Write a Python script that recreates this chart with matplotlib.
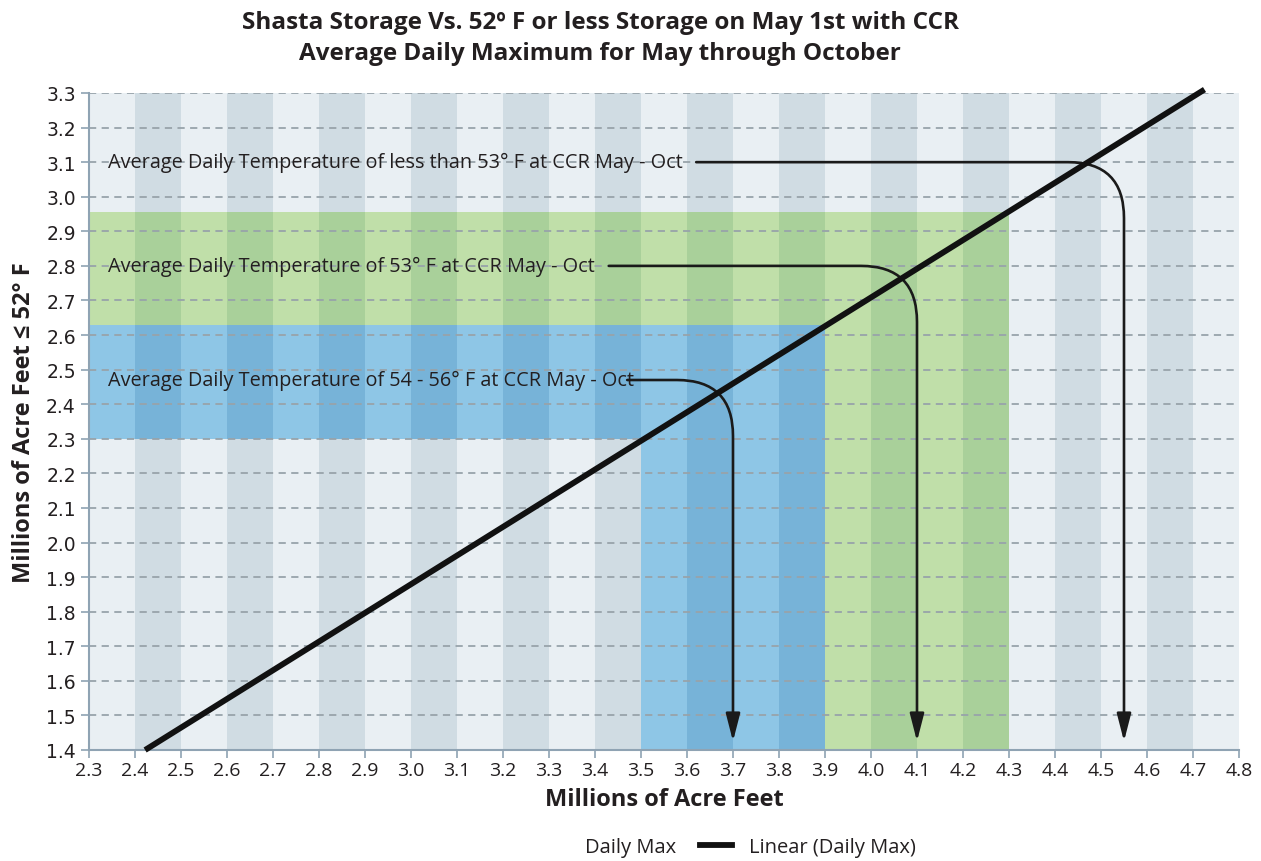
import matplotlib
matplotlib.use('Agg')
import matplotlib.pyplot as plt
from matplotlib.lines import Line2D

plt.rcParams['font.family'] = ['Open Sans', 'DejaVu Sans']

# axis ranges / ticks
x_ticks = [2.3, 2.4, 2.5, 2.6, 2.7, 2.8, 2.9, 3.0, 3.1, 3.2, 3.3, 3.4, 3.5,
           3.6, 3.7, 3.8, 3.9, 4.0, 4.1, 4.2, 4.3, 4.4, 4.5, 4.6, 4.7, 4.8]
y_ticks = [1.4, 1.5, 1.6, 1.7, 1.8, 1.9, 2.0, 2.1, 2.2, 2.3, 2.4, 2.5, 2.6,
           2.7, 2.8, 2.9, 3.0, 3.1, 3.2, 3.3]

# shaded zones (x range of horizontal band, x range of vertical drop, y range)
blue_band_x = [2.3, 3.9]
blue_drop_x = [3.5, 3.9]
blue_y = [2.30, 2.63]
green_band_x = [2.3, 4.3]
green_drop_x = [3.9, 4.3]
green_y = [2.63, 2.955]

# trend line "Linear (Daily Max)"
trend_x = [2.422, 4.725]
trend_y = [1.4, 3.31]

# callouts
callout_text = [
    'Average Daily Temperature of less than 53\u00b0 F at CCR May - Oct',
    'Average Daily Temperature of 53\u00b0 F at CCR May - Oct',
    'Average Daily Temperature of 54 - 56\u00b0 F at CCR May - Oct',
]
callout_y = [3.1, 2.8, 2.47]
callout_start = [3.62, 3.43, 3.47]
callout_drop = [4.55, 4.10, 3.70]
arrow_tip_y = 1.425

# colours
bg_light, bg_dark = '#e9eff3', '#d0dce3'
green_light, green_dark = '#c0dfa9', '#a9d09a'
blue_light, blue_dark = '#8ec6e6', '#77b3d8'
ink = '#231f20'

fig = plt.figure(figsize=(12.61, 8.62), dpi=100)
ax = fig.add_axes([89 / 1261, 1 - 751 / 862, 1150 / 1261, 657 / 862])

ymin, ymax = y_ticks[0], y_ticks[-1]
cols = x_ticks[:-1]
for i, c in enumerate(cols):
    dark = i % 2 == 1
    ax.bar(c, ymax - ymin, width=0.1, bottom=ymin, align='edge',
           color=bg_dark if dark else bg_light, linewidth=0, zorder=0)
    if green_band_x[0] - 1e-9 <= c < green_band_x[1] - 1e-9:
        lo = ymin if c >= green_drop_x[0] - 1e-9 else green_y[0]
        ax.bar(c, green_y[1] - lo, width=0.1, bottom=lo, align='edge',
               color=green_dark if dark else green_light, linewidth=0, zorder=1)
    if blue_band_x[0] - 1e-9 <= c < blue_band_x[1] - 1e-9:
        lo = ymin if c >= blue_drop_x[0] - 1e-9 else blue_y[0]
        ax.bar(c, blue_y[1] - lo, width=0.1, bottom=lo, align='edge',
               color=blue_dark if dark else blue_light, linewidth=0, zorder=1)

# horizontal dashed grid
for yv in y_ticks[1:]:
    ax.axhline(yv, color='#98a3aa', lw=1.3, ls=(0, (4, 3)), zorder=2)

# trend line
ax.plot(trend_x, trend_y, color='#111111', lw=4.2, zorder=5, clip_on=False,
        solid_capstyle='butt', label='Linear (Daily Max)')

# callouts with bent arrows
for txt, yv, xs, xd in zip(callout_text, callout_y, callout_start, callout_drop):
    ax.text(2.341, yv, txt, fontsize=14.3, color=ink, va='center',
            ha='left', zorder=4)
    ax.annotate('', xy=(xd, arrow_tip_y), xytext=(xs, yv),
                arrowprops=dict(arrowstyle='-|>,head_length=1.05,head_width=0.27',
                                mutation_scale=16,
                                connectionstyle='angle,angleA=0,angleB=90,rad=56',
                                color='#1a1a1a', lw=1.9, shrinkA=0, shrinkB=0),
                zorder=4)

ax.set_xlim(x_ticks[0], x_ticks[-1])
ax.set_ylim(ymin, ymax)
ax.set_xticks(x_ticks)
ax.set_xticklabels([f'{v:.1f}' for v in x_ticks], fontsize=14, color=ink)
ax.set_yticks(y_ticks)
ax.set_yticklabels([f'{v:.1f}' for v in y_ticks], fontsize=13.5, color=ink,
                   family='DejaVu Sans')
ax.tick_params(axis='both', direction='out', color='#8fa3b3', length=6, width=1.2)
ax.tick_params(axis='x', pad=2)
for s in ['top', 'right']:
    ax.spines[s].set_visible(False)
for s in ['left', 'bottom']:
    ax.spines[s].set_color('#8fa3b3')
    ax.spines[s].set_linewidth(1.5)

ax.set_xlabel('Millions of Acre Feet', fontsize=17, fontweight='bold',
              color=ink, labelpad=6)
ax.set_ylabel('Millions of Acre Feet \u2264 52\u00b0 F', fontsize=17,
              fontweight='bold', color=ink, labelpad=7)

fig.text(600 / 1261, 1 - 23 / 862,
         'Shasta Storage Vs. 52\u00ba F or less Storage on May 1st with CCR',
         ha='center', va='center', fontsize=17.5, fontweight='bold', color=ink)
fig.text(600 / 1261, 1 - 54 / 862, 'Average Daily Maximum for May through October',
         ha='center', va='center', fontsize=17.5, fontweight='bold', color=ink)

handles = [Line2D([], [], linestyle='none', label='Daily Max'),
           Line2D([], [], color='#111111', lw=4.2, label='Linear (Daily Max)')]
fig.legend(handles=handles, loc='center', bbox_to_anchor=(726 / 1261, 1 - 848 / 862),
           ncol=2, frameon=False, fontsize=14.5, columnspacing=1.2,
           handlelength=1.6, labelcolor=ink)

fig.savefig('out.png', dpi=100)
